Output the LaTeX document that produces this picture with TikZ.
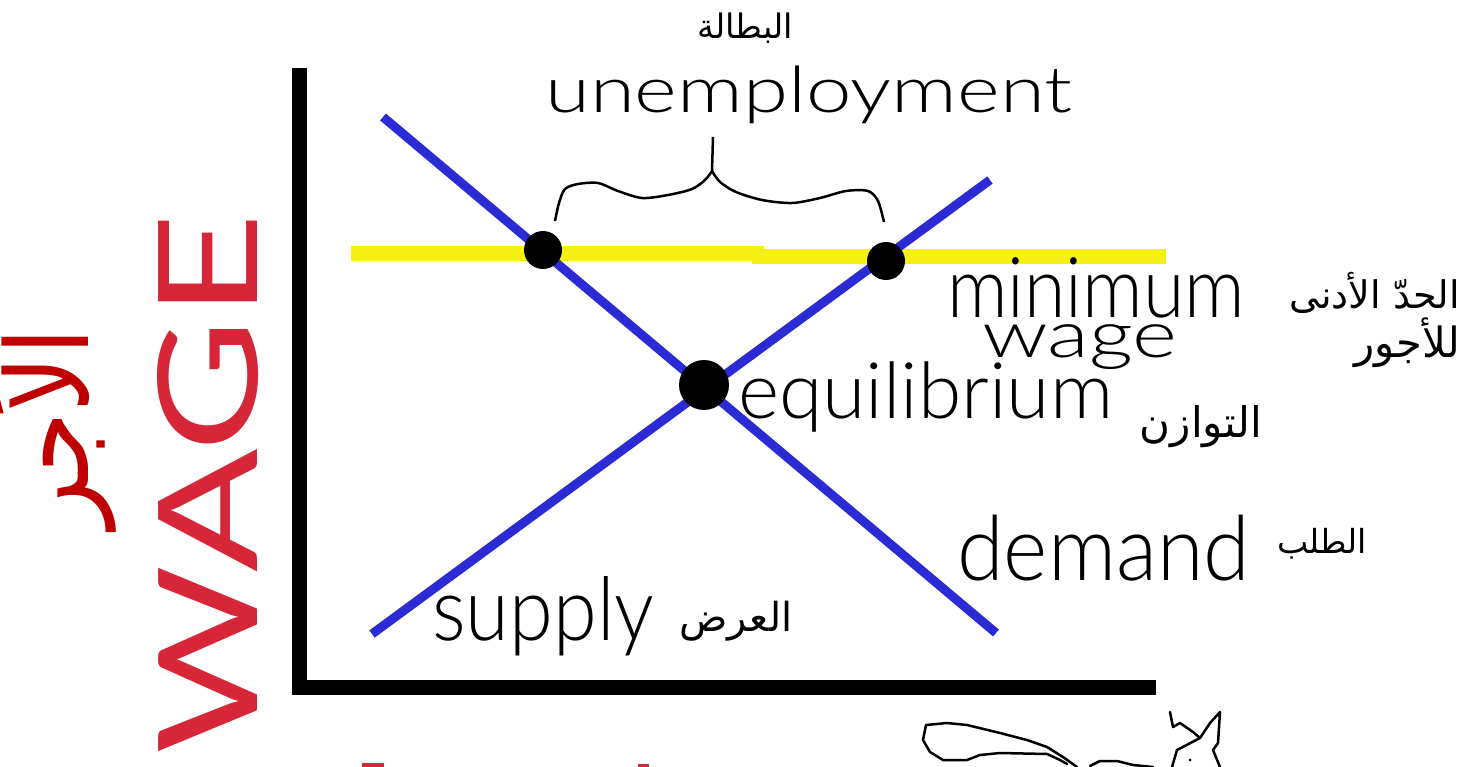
\documentclass[tikz,border=0pt]{standalone}
\usepackage{fontspec}
\setmainfont{DejaVu Sans}
\newfontfamily\arabicfont[Script=Arabic]{DejaVu Sans}
\newfontfamily\hand{Lato Light}
\newfontfamily\handreg{Lato}
\TeXXeTstate=1
\definecolor{lineblue}{RGB}{43,43,214}
\definecolor{minyellow}{RGB}{245,240,22}
\definecolor{wagered}{RGB}{214,38,56}
\definecolor{arred}{RGB}{192,0,0}
\begin{document}
\begin{tikzpicture}[x=1pt,y=-1pt,
  hw/.style={inner sep=0pt, anchor=base west, text=black},
  ar/.style={inner sep=0pt, text=black},
  axisline/.style={line width=15pt, line join=miter, draw=black},
  curve/.style={line width=9pt, draw=lineblue},
  minwage/.style={line width=15pt, draw=minyellow},
  dotnode/.style={circle, fill=black, inner sep=0pt},
  scribble/.style={line width=2.5pt, draw=black, line join=round, line cap=round}]
\fill[white] (0,0) rectangle (1483,767);
\useasboundingbox (0,0) rectangle (1483,767);

% axes
\coordinate (ytop) at (299.5,68);
\coordinate (orig) at (299.5,687.5);
\coordinate (xend) at (1156,687.5);
\draw[axisline] (ytop) -- (orig) -- (xend);

% minimum wage line
\coordinate (mw1) at (351,253.5);
\coordinate (mw2) at (764,253.5);
\coordinate (mw3) at (752,256.5);
\coordinate (mw4) at (1166,256.5);
\draw[minwage] (mw1) -- (mw2);
\draw[minwage] (mw3) -- (mw4);

% demand and supply
\coordinate (d1) at (383,117);
\coordinate (d2) at (996,633);
\coordinate (s1) at (372,634);
\coordinate (s2) at (990,180);
\draw[curve] (d1) -- (d2);
\draw[curve] (s1) -- (s2);

% dots
\node[dotnode, minimum size=38pt] (dotA) at (543,250) {};
\node[dotnode, minimum size=38pt] (dotB) at (886,261) {};
\node[dotnode, minimum size=50pt] (eq) at (704,385) {};

% brace
\coordinate (bstem) at (713,137);
\coordinate (bcusp) at (712,171);
\draw[line width=2.5pt] (bstem) -- (bcusp);
\draw[line width=2.5pt] plot[smooth] coordinates {(555,221) (559,203) (565,189) (578,184) (598,183) (618,191) (642,198) (668,195) (692,189) (705,180) (712,171)};
\draw[line width=2.5pt] plot[smooth] coordinates {(712,171) (720,182) (736,192) (762,200) (792,203) (820,198) (846,191) (868,191) (878,201) (884,222)};

% handwritten labels
\node[hw, font=\hand\fontsize{64}{64}\selectfont] (unemp) at (545,113) {\resizebox{527pt}{\height}{unemployment}};
\node[hw, font=\hand\fontsize{84}{84}\selectfont] (minimum) at (947,318) {\resizebox{298pt}{\height}{minimum}};
\node[hw, font=\hand\fontsize{65}{65}\selectfont] (wage) at (982,358) {\resizebox{195pt}{\height}{wage}};
\node[hw, font=\hand\fontsize{78}{78}\selectfont] (equil) at (738,418) {\resizebox{375pt}{\height}{equilibrium}};
\node[hw, font=\hand\fontsize{90}{90}\selectfont] (demand) at (957,580) {\resizebox{293pt}{\height}{demand}};
\node[hw, font=\hand\fontsize{88}{88}\selectfont] (supply) at (432,640) {\resizebox{222pt}{\height}{supply}};

% Arabic labels
\node[ar] (arUnemp) at (745,28) {\resizebox{96pt}{!}{\arabicfont\beginR البطالة\endR}};
\node[ar, anchor=east] (arMin1) at (1460,293) {\resizebox{170pt}{!}{\arabicfont\beginR الحدّ الأدنى\endR}};
\node[ar, anchor=east] (arMin2) at (1460,343) {\resizebox{105pt}{!}{\arabicfont\beginR للأجور\endR}};
\node[ar] (arEq) at (1201,427) {\resizebox{122pt}{!}{\arabicfont\beginR التوازن\endR}};
\node[ar] (arDem) at (1322,544) {\resizebox{90pt}{!}{\arabicfont\beginR الطلب\endR}};
\node[ar] (arSup) at (736,621) {\resizebox{113pt}{!}{\arabicfont\beginR العرض\endR}};

% vertical axis titles
\node[rotate=90, text=wagered, inner sep=0pt] (wageTitle) at (208,484) {\resizebox{540pt}{100pt}{\handreg WAGE}};
\node[rotate=90, text=arred, inner sep=0pt] (arWage) at (48,428) {\resizebox{200pt}{!}{\scalebox{1}[1.15]{\arabicfont\beginR الأجر\endR}}};

% cut-off marks at the bottom
\fill[wagered] (362,763) rectangle (384,767);
\fill[wagered] (638,764) rectangle (649,767);
\draw[scribble] (1077,767) -- (1063,757) -- (1047,747) -- (1027,740) -- (1000,733) -- (967,725) -- (947,723) -- (926,725) -- (923,740) -- (930,752) -- (943,760) -- (967,760) -- (980,755) -- (1000,753) -- (1047,754) -- (1060,760) -- (1067,764);
\draw[scribble] (1090,766) -- (1100,761) -- (1117,761) -- (1133,765) -- (1153,767);
\draw[scribble] (1172,767) -- (1177,750) -- (1200,738) -- (1193,732) -- (1180,723) -- (1173,727) -- (1170,712);
\draw[scribble] (1200,738) -- (1210,723) -- (1220,712) -- (1218,743) -- (1213,750) -- (1220,767);
\fill (1190,760) circle (1.5pt);
\end{tikzpicture}
\end{document}
